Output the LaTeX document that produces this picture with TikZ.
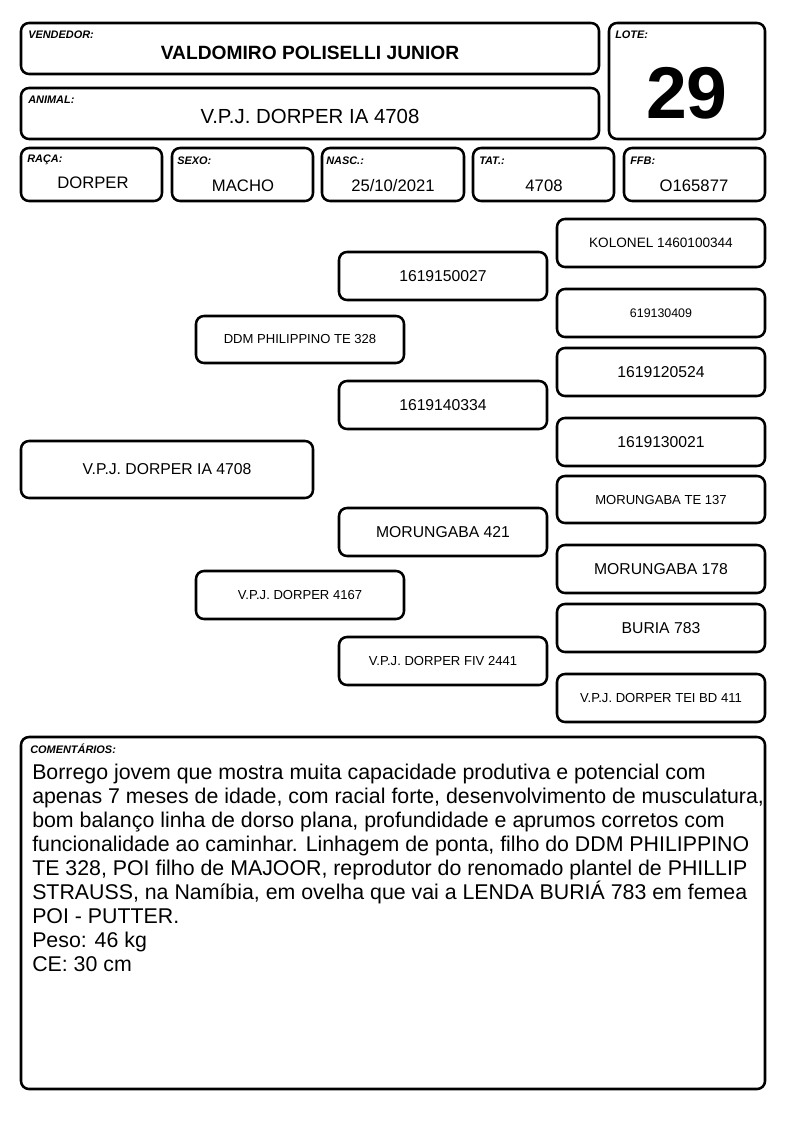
\documentclass[tikz,border=0pt]{standalone}
\usepackage{fontspec}
\setmainfont{Liberation Sans}
\begin{document}
\begin{tikzpicture}[x=0.75pt,y=-0.75pt,
  box/.style={draw=black,line width=1.9pt,rounded corners=6pt,inner sep=0pt,fill=white,align=center},
  lab/.style={anchor=north west,inner sep=0pt,font=\fontsize{8.2}{9}\selectfont\bfseries\itshape},
  val/.style={inner sep=0pt,font=\fontsize{12.5}{15}\selectfont},
  big/.style={font=\fontsize{11.8}{14}\selectfont},
  tny/.style={font=\fontsize{9.8}{11}\selectfont}]
\useasboundingbox (0,0) rectangle (794,1123);
\newcommand\boxat[7]{%
  \pgfmathsetmacro\cx{(#2+#4)/2}\pgfmathsetmacro\cy{(#3+#5)/2}%
  \pgfmathsetmacro\bw{(#4-#2)*0.75}\pgfmathsetmacro\bh{(#5-#3)*0.75}%
  \node[box,#7,minimum width=\bw pt,minimum height=\bh pt] (#1) at (\cx,\cy) {#6};}
% header
\boxat{vend}{21}{23}{599}{74}{}{}
\node[lab] (vendl) at (28,31) {VENDEDOR:};
\node[inner sep=0pt,font=\fontsize{14.4}{16}\selectfont\bfseries] (vendv) at (310,53) {VALDOMIRO POLISELLI JUNIOR};
\boxat{anim}{21}{88}{599}{139}{}{}
\node[lab] (animl) at (28,96) {ANIMAL:};
\node[inner sep=0pt,font=\fontsize{15.3}{17}\selectfont] (animv) at (310,116) {V.P.J. DORPER IA 4708};
\boxat{lote}{609}{23}{765}{139}{}{}
\node[lab] (lotel) at (615,31) {LOTE:};
\node[inner sep=0pt,font=\fontsize{55}{55}\selectfont\bfseries] (lotev) at (687,93) {29};
% row
\boxat{raca}{21}{148}{162}{201}{}{}
\node[lab] (racal) at (27,155) {RAÇA:};
\node[val] (racav) at (93,183) {DORPER};
\boxat{sexo}{172}{148}{313}{201}{}{}
\node[lab] (sexol) at (177,157) {SEXO:};
\node[val] (sexov) at (243,186) {MACHO};
\boxat{nasc}{322}{148}{464}{201}{}{}
\node[lab] (nascl) at (326,157) {NASC.:};
\node[val] (nascv) at (393,186) {25/10/2021};
\boxat{tat}{473}{148}{614}{201}{}{}
\node[lab] (tatl) at (479,157) {TAT.:};
\node[val] (tatv) at (544,186) {4708};
\boxat{ffb}{624}{148}{765}{201}{}{}
\node[lab] (ffbl) at (630,157) {FFB:};
\node[val] (ffbv) at (694,186) {O165877};
% pedigree
\boxat{a}{21}{441}{313}{498}{V.P.J. DORPER IA 4708}{big}
\boxat{s}{196}{316}{404}{363}{DDM PHILIPPINO TE 328}{tny}
\boxat{d}{196}{571}{404}{619}{V.P.J. DORPER 4167}{tny}
\boxat{ss}{339}{252}{547}{300}{1619150027}{big}
\boxat{sd}{339}{381}{547}{429}{1619140334}{big}
\boxat{ds}{339}{508}{547}{556}{MORUNGABA 421}{big}
\boxat{dd}{339}{637}{547}{685}{V.P.J. DORPER FIV 2441}{tny}
\boxat{sss}{557}{219}{765}{267}{KOLONEL 1460100344}{font=\fontsize{10.2}{12}\selectfont}
\boxat{ssd}{557}{289}{765}{337}{619130409}{font=\fontsize{9.3}{11}\selectfont}
\boxat{sds}{557}{348}{765}{396}{1619120524}{big}
\boxat{sdd}{557}{418}{765}{466}{1619130021}{big}
\boxat{dss}{557}{476}{765}{523}{MORUNGABA TE 137}{tny}
\boxat{dsd}{557}{545}{765}{593}{MORUNGABA 178}{big}
\boxat{dds}{557}{604}{765}{652}{BURIA 783}{big}
\boxat{ddd}{557}{674}{765}{722}{V.P.J. DORPER TEI BD 411}{tny}
% comments
\boxat{com}{21}{737}{765}{1089}{}{}
\node[lab] (coml) at (30,744) {COMENTÁRIOS:};
\node[anchor=north west,inner sep=0pt,align=left,font=\fontsize{16}{18}\selectfont] (comv) at (32,764) {Borrego jovem que mostra muita capacidade produtiva e potencial com\\
apenas 7 meses de idade, com racial forte, desenvolvimento de musculatura,\\
bom balanço linha de dorso plana, profundidade e aprumos corretos com\\
funcionalidade ao caminhar. Linhagem de ponta, filho do DDM PHILIPPINO\\
TE 328, POI filho de MAJOOR, reprodutor do renomado plantel de PHILLIP\\
STRAUSS, na Namíbia, em ovelha que vai a LENDA BURIÁ 783 em femea\\
POI - PUTTER.\\
Peso: 46 kg\\
CE: 30 cm};
\end{tikzpicture}
\end{document}
